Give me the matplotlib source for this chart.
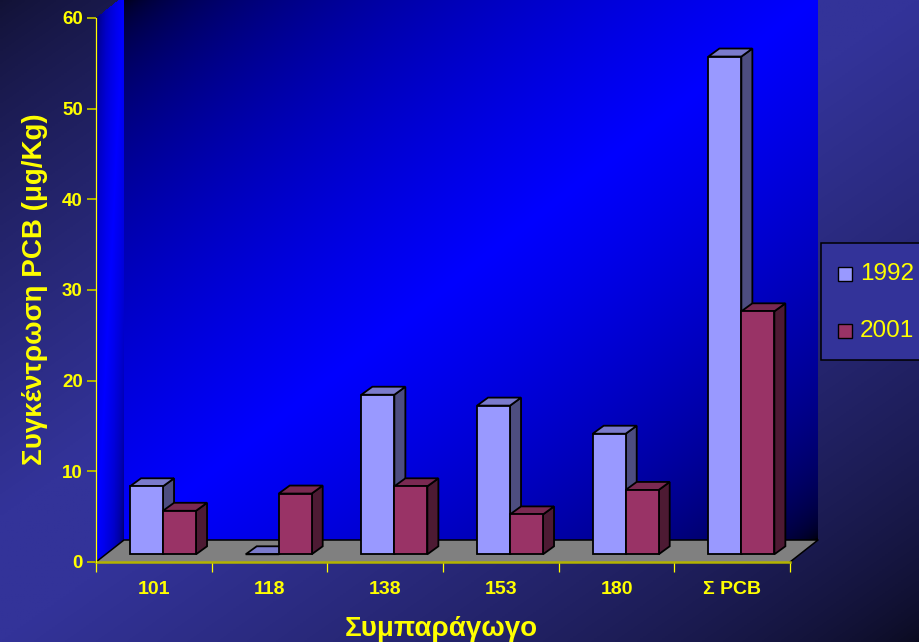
import matplotlib
matplotlib.use('Agg')
import matplotlib.pyplot as plt
import numpy as np

plt.rcParams['font.family'] = ['Liberation Sans', 'DejaVu Sans']

categories = ['101', '118', '138', '153', '180', 'Σ PCB']
values_1992 = [7.5, 0, 17.6, 16.4, 13.3, 54.9]
values_2001 = [4.8, 6.7, 7.5, 4.4, 7.1, 26.8]
years = ['1992', '2001']

W, H = 919, 642
YELLOW = '#ffff00'
OLIVE = '#b3b300'
faces_1992 = ('#9999ff', '#4d4d80', '#7a7acc')
faces_2001 = ('#993366', '#4d1a33', '#7a2952')

# plot box in pixels
left, right, y0, y60 = 96, 790, 562, 18
unit_x = (right - left) / 6
unit_y = (y0 - y60) / 60
# 3d look: wall depth, bar depth, bar shift from the axis
depth_x, depth_y = 28 / unit_x, 22 / unit_y
bar_dx, bar_dy = 11 / unit_x, 8 / unit_y
shift_x, lift = 9.2 / unit_x, 7.7 / unit_y
bar_w = 33 / unit_x


def diag(u, v, gamma=0.45):
    # dark in two opposite corners, full colour along the other diagonal
    s = (u + v) / 2
    return (1 - np.abs(2 * s - 1)) ** gamma


def blues(i):
    return np.dstack([np.zeros_like(i), np.zeros_like(i), i])


fig = plt.figure(figsize=(W / 100, H / 100), dpi=100)

# slide background, top left corner is not as dark as bottom right
bg = fig.add_axes([0, 0, 1, 1], zorder=-1)
u, v = np.meshgrid(np.linspace(0, 1, 300), np.linspace(0, 1, 300))
s = (u + v) / 2
k = np.where(s < 0.5, 0.35 + 0.65 * np.clip(2 * s / 0.8, 0, 1) ** 0.8, 0.2 + 0.8 * np.clip(2 - 2 * s, 0, 1) ** 0.7)
bg.imshow(k[..., None] * np.array([0x33, 0x33, 0x99]) / 255, extent=(0, 1, 0, 1), origin='upper', aspect='auto')
bg.axis('off')

ax = fig.add_axes([left / W, 1 - y0 / H, (right - left) / W, (y0 - y60) / H])
ax.patch.set_visible(False)

# back wall
ax.imshow(blues(diag(u, v)), origin='upper', aspect='auto', clip_on=False, zorder=1,
          extent=(depth_x, 6 + depth_x, depth_y, 60 + depth_y))

# side wall, skewed along the depth direction
su, sv = np.meshgrid(np.linspace(0, 1, 60), np.linspace(0, 1, 200))
sx = su * depth_x
sy = (1 - sv) * 60 + su * depth_y
wall_cmap = matplotlib.colors.LinearSegmentedColormap.from_list('wall', ['#000000', '#0000ff'])
ax.pcolormesh(sx, sy, diag(su[:-1, :-1], sv[:-1, :-1], 0.27), cmap=wall_cmap,
              vmin=0, vmax=1, clip_on=False, zorder=1, shading='flat', rasterized=True)

# floor
ax.fill([0, depth_x, 6 + depth_x, 6], [0, depth_y, depth_y, 0], facecolor='#808080', edgecolor='none', clip_on=False, zorder=2)
ax.plot([0, depth_x, 6 + depth_x, 6], [0, depth_y, depth_y, 0], color='black', lw=1.1, clip_on=False, zorder=2)


def draw_bars(xs, vals, colors, z):
    for x, val in zip(xs, vals):
        top = lift + val
        r = x + bar_w
        # side and top faces first, front goes over them
        ax.fill([r, r + bar_dx, r + bar_dx, r], [lift, lift + bar_dy, top + bar_dy, top],
                facecolor=colors[1], edgecolor='black', lw=1.3, clip_on=False, zorder=z)
        ax.fill([x, x + bar_dx, r + bar_dx, r], [top, top + bar_dy, top + bar_dy, top],
                facecolor=colors[2], edgecolor='black', lw=1.3, clip_on=False, zorder=z)
        ax.bar(x, val, bar_w, bottom=lift, align='edge', facecolor=colors[0], edgecolor='black', lw=1.3,
               clip_on=False, zorder=z)


centers = np.arange(len(categories)) + 0.5
draw_bars(centers - bar_w + shift_x, values_1992, faces_1992, 3)
draw_bars(centers + shift_x, values_2001, faces_2001, 4)

ax.set_xlim(0, 6)
ax.set_ylim(0, 60)

for side in ['top', 'right']:
    ax.spines[side].set_visible(False)
ax.spines['left'].set_color(YELLOW)
ax.spines['left'].set_linewidth(0.9)
ax.spines['bottom'].set_color(OLIVE)
ax.spines['bottom'].set_linewidth(1.8)
ax.spines['left'].set_zorder(6)
ax.spines['bottom'].set_zorder(5)

ax.set_yticks(range(0, 61, 10))
ax.tick_params(axis='y', color=OLIVE, width=1.4, length=6.5, labelcolor=YELLOW, labelsize=13.5, pad=3)
ax.set_xticks(range(7))
ax.set_xticklabels([])
ax.tick_params(axis='x', which='major', color=YELLOW, width=0.9, length=7)
ax.set_xticks(centers, minor=True)
ax.set_xticklabels(categories, minor=True, fontweight='bold', color=YELLOW, fontsize=14)
ax.tick_params(axis='x', which='minor', length=0, pad=14)
for t in ax.get_yticklabels():
    t.set_fontweight('bold')

fig.text(35 / W, 1 - 289 / H, 'Συγκέντρωση PCB (μg/Kg)', rotation=90, ha='center', va='center',
         color=YELLOW, fontweight='bold', fontsize=20)
fig.text(441.5 / W, 1 - 629 / H, 'Συμπαράγωγο', ha='center', va='center',
         color=YELLOW, fontweight='bold', fontsize=20)

# legend box runs off the right side
box = plt.Rectangle((821 / W, 1 - 360 / H), 110 / W, 117 / H, transform=fig.transFigure,
                    facecolor='#333399', edgecolor='black', lw=1.1, clip_on=False)
fig.add_artist(box)
for year, colors, yp in zip(years, [faces_1992, faces_2001], [274, 331]):
    fig.add_artist(plt.Rectangle((838 / W, 1 - (yp + 7) / H), 14 / W, 14 / H, transform=fig.transFigure,
                                 facecolor=colors[0], edgecolor='black', lw=1))
    fig.text(860 / W, 1 - yp / H, year, color=YELLOW, fontsize=17.5, va='center', ha='left')

fig.savefig('out.png', dpi=100)
